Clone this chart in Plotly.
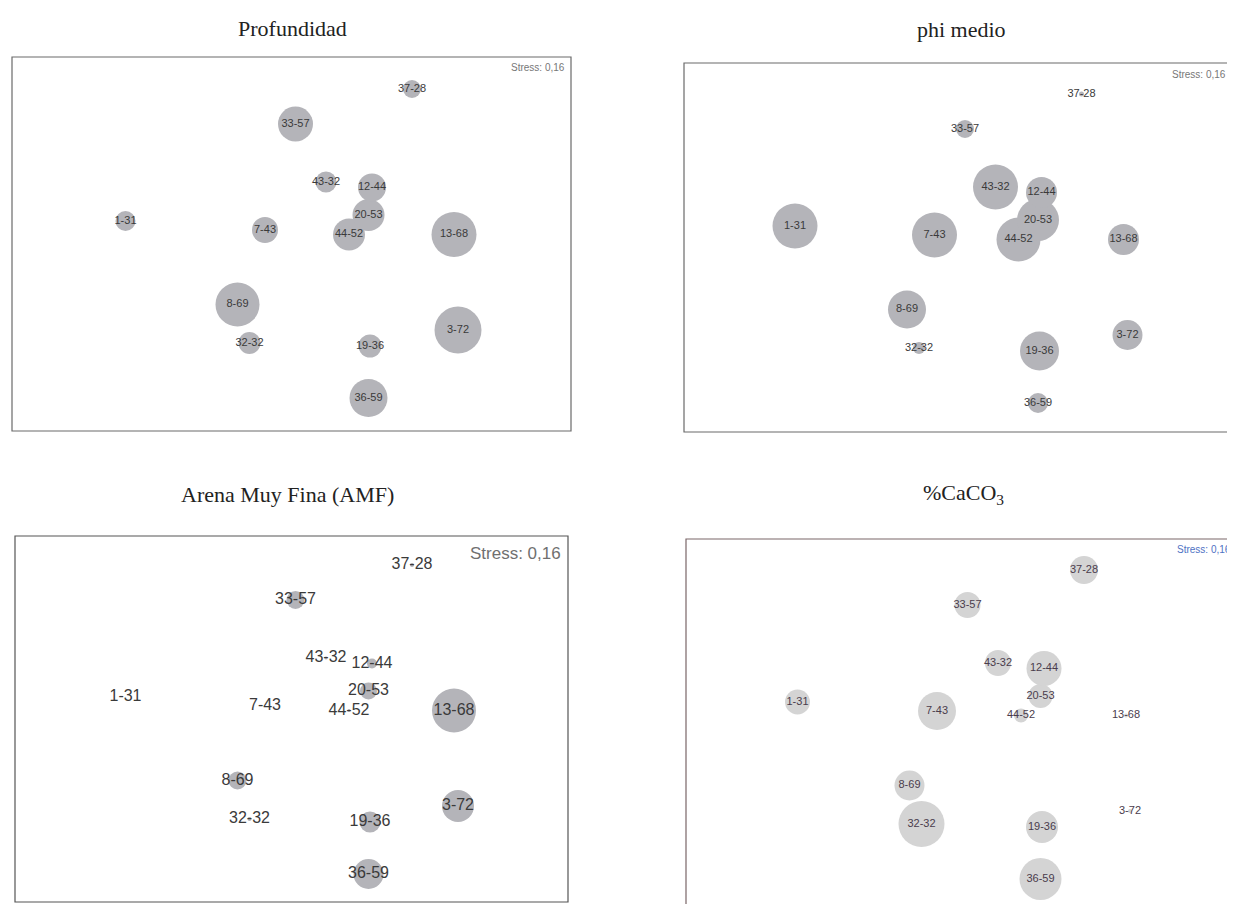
import plotly.graph_objects as go

# ---- data -------------------------------------------------------------
stations = ["1-31", "7-43", "8-69", "32-32", "33-57", "43-32", "44-52",
            "20-53", "12-44", "19-36", "36-59", "37-28", "13-68", "3-72"]

# MDS ordination coordinates (same configuration in every panel)
mds_x = [-1.745, -0.35, -0.625, -0.505, -0.045, 0.26, 0.49,
         0.685, 0.72, 0.70, 0.685, 1.12, 1.54, 1.58]
mds_y = [0.29, 0.20, -0.545, -0.93, 1.26, 0.68, 0.155,
         0.35, 0.625, -0.96, -1.48, 1.61, 0.155, -0.80]

# relative bubble values per variable
profundidad = [20, 26, 44, 22, 35, 21, 32, 32, 28, 23, 38, 18, 45, 47]
phi_medio = [45, 45, 38, 12, 18, 45, 44, 42, 31, 39, 20, 5, 31, 30]
amf = [0.5, 0.5, 18, 4, 18, 3, 3, 17, 10, 21, 30, 4, 44, 32]
caco3 = [25, 38, 30, 46, 26, 26, 14, 24, 35, 32, 42, 28, 4, 4]

titles = ["Profundidad", "phi medio", "Arena Muy Fina (AMF)", "%CaCO<sub>3</sub>"]
stress_label = "Stress: 0,16"

# ---- layout helpers ----------------------------------------------------
OFF = 8                      # page body margin
W, H = 1235 - OFF, 904 - OFF


def fx(px):
    return (px - OFF) / W


def fy(py):
    return 1 - (py - OFF) / H


# panel frames in page pixels: L, R, T, B, offset x, offset y
panels = [
    dict(L=12, R=571, T=57, B=431, ox=0, oy=0, vals=profundidad,
         color="#b4b4b9", fsize=11, fcolor="#3a3a3a",
         tx=292, ty=28, sx=567, sy=67, ssize=10, scolor="#777777",
         sanchor="right", frame=(12, 57, 571, 431), fline="#6a6a6a"),
    dict(L=684, R=1235, T=63, B=432, ox=669.5, oy=5, vals=phi_medio,
         color="#b4b4b9", fsize=11, fcolor="#3a3a3a",
         tx=961, ty=29, sx=1228, sy=74, ssize=10, scolor="#777777",
         sanchor="right", frame=(684, 63, 1245, 432), fline="#6a6a6a"),
    dict(L=15, R=568, T=536, B=902, ox=0, oy=476, vals=amf,
         color="#b4b4b9", fsize=16, fcolor="#3a3a3a",
         tx=287, ty=494, sx=563, sy=553, ssize=17, scolor="#707070",
         sanchor="right", frame=(15, 536, 568, 902), fline="#555555"),
    dict(L=686, R=1235, T=539, B=904, ox=672, oy=481, vals=caco3,
         color="#d4d4d4", fsize=11, fcolor="#4a3c4c",
         tx=963, ty=494, sx=1233, sy=549, ssize=10, scolor="#4f72c4",
         sanchor="right", frame=(686, 539, 1245, 915), fline="#7a6668"),
]

fig = go.Figure()
layout = dict(width=W, height=H, margin=dict(l=0, r=0, t=0, b=0),
              paper_bgcolor="white", plot_bgcolor="rgba(0,0,0,0)",
              showlegend=False)
shapes, annotations = [], []

for i, p in enumerate(panels):
    k = "" if i == 0 else str(i + 1)
    xr = [(p["L"] - p["ox"] - 300) / 100, (p["R"] - p["ox"] - 300) / 100]
    yr = [(p["oy"] + 250 - p["B"]) / 100, (p["oy"] + 250 - p["T"]) / 100]
    layout["xaxis" + k] = dict(domain=[fx(p["L"]), min(1, fx(p["R"]))],
                               range=xr, visible=False, fixedrange=True,
                               anchor="y" + k)
    layout["yaxis" + k] = dict(domain=[max(0, fy(p["B"])), fy(p["T"])],
                               range=yr, visible=False, fixedrange=True,
                               anchor="x" + k)
    fig.add_trace(go.Scatter(
        x=mds_x, y=mds_y, text=stations, mode="markers+text",
        textposition="middle center",
        textfont=dict(family="Liberation Sans, Arial", size=p["fsize"],
                      color=p["fcolor"]),
        marker=dict(size=p["vals"], sizemode="diameter", sizeref=1,
                    color=p["color"], line=dict(width=0), opacity=1),
        cliponaxis=False,
        xaxis="x" + k, yaxis="y" + k, hoverinfo="text"))
    x0, y0, x1, y1 = p["frame"]
    shapes.append(dict(type="rect", xref="paper", yref="paper",
                       x0=fx(x0), x1=fx(x1), y0=fy(y1), y1=fy(y0),
                       line=dict(color=p["fline"], width=1.2),
                       fillcolor="rgba(0,0,0,0)", layer="below"))
    annotations.append(dict(text=titles[i], x=fx(p["tx"]), y=fy(p["ty"]),
                            xref="paper", yref="paper", showarrow=False,
                            xanchor="center", yanchor="middle",
                            font=dict(family="Liberation Serif, Times New Roman",
                                      size=22, color="#222222")))
    annotations.append(dict(text=stress_label, x=fx(p["sx"]), y=fy(p["sy"]),
                            xref="paper", yref="paper", showarrow=False,
                            xanchor=p["sanchor"], yanchor="middle",
                            font=dict(family="Liberation Sans, Arial",
                                      size=p["ssize"], color=p["scolor"])))

layout["shapes"] = shapes
layout["annotations"] = annotations
fig.update_layout(**layout)
fig.write_html("out.html")
